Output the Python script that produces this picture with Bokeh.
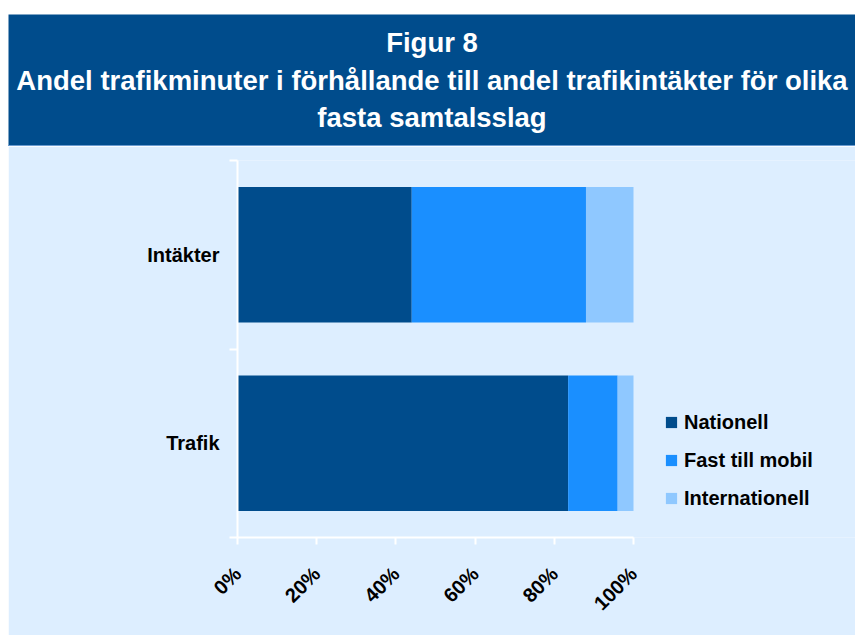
from bokeh.plotting import figure
from bokeh.models import Range1d, FixedTicker, Legend, LegendItem, ColumnDataSource, Spacer
from bokeh.layouts import column, row
from bokeh.embed import file_html
from bokeh.resources import INLINE
from bokeh.core.properties import value

# ---- data ----
title_lines = ["Figur 8",
               "Andel trafikminuter i förhållande till andel trafikintäkter för olika",
               "fasta samtalsslag"]
categories = ["Trafik", "Intäkter"]          # bottom -> top
series = ["Nationell", "Fast till mobil", "Internationell"]
nationell = [83.5, 44.0]
fast_till_mobil = [12.5, 44.0]
internationell = [4.0, 12.0]
x_ticks = [0, 20, 40, 60, 80, 100]
x_tick_labels = ["0%", "20%", "40%", "60%", "80%", "100%"]

# ---- styles ----
DARK = "#004C8C"
BG = "#DDEEFF"
colors = ["#004C8C", "#1A8FFF", "#8FC8FF"]
FONT = value("Liberation Sans")
W = 847

# ---- title band ----
th = 131
tf = figure(width=W, height=th, x_range=Range1d(0, 1), y_range=Range1d(0, th),
            x_axis_type=None, y_axis_type=None, toolbar_location=None,
            output_backend="svg", min_border=0)
tf.frame_align = False
tf.background_fill_color = DARK
tf.border_fill_color = DARK
tf.outline_line_color = None
tf.grid.visible = False
line_pos = [th - 28, th - 66, th - 103]
tf.text(x=[0.5] * len(title_lines), y=line_pos, text=title_lines,
        text_align="center", text_baseline="middle", text_font=FONT,
        text_font_style="bold", text_font_size="27.5px", text_color="white")

# thin separator line under the band
sep = Spacer(width=W, height=1, styles={"background-color": "#6A9BD0"})

# ---- main chart ----
LEFT = 229
AXIS_PX = 396                      # pixel length of the 0-100 % axis
frame_w = W - LEFT
x_end = x_ticks[-1] * frame_w / AXIS_PX

y_pos = [i + 0.5 for i in range(len(categories))]
src = ColumnDataSource(dict(y=y_pos, Nationell=nationell,
                            **{"Fast till mobil": fast_till_mobil},
                            Internationell=internationell))

p = figure(width=W, height=489, x_range=Range1d(0, x_end),
           y_range=Range1d(0, len(categories)),
           toolbar_location=None, output_backend="svg",
           min_border_left=LEFT, min_border_right=0,
           min_border_top=14, min_border_bottom=98)
p.frame_align = False
p.background_fill_color = BG
p.border_fill_color = BG
p.outline_line_color = None
p.grid.visible = False

rs = p.hbar_stack(series, y="y", height=0.72, color=colors, line_color=None, source=src)

p.xaxis.ticker = FixedTicker(ticks=x_ticks)
p.xaxis.bounds = (x_ticks[0], x_ticks[-1])
p.xaxis.major_label_overrides = {t: l for t, l in zip(x_ticks, x_tick_labels)}
p.xaxis.major_label_orientation = 0.785398
p.xaxis.major_tick_out = 7
p.xaxis.major_tick_in = 0
p.xaxis.major_label_standoff = 26

p.yaxis.ticker = FixedTicker(ticks=y_pos, minor_ticks=list(range(len(categories) + 1)))
p.yaxis.major_label_overrides = {y: c for y, c in zip(y_pos, categories)}
p.yaxis.major_tick_out = 0
p.yaxis.major_tick_in = 0
p.yaxis.minor_tick_out = 8
p.yaxis.minor_tick_in = 0
p.yaxis.major_label_standoff = 10

for ax in (p.xaxis, p.yaxis):
    ax.axis_line_color = "white"
    ax.axis_line_width = 2
    ax.major_tick_line_color = "white"
    ax.major_tick_line_width = 2
    ax.minor_tick_line_color = "white"
    ax.minor_tick_line_width = 2
    ax.major_label_text_font = "Liberation Sans"
    ax.major_label_text_font_style = "bold"
    ax.major_label_text_font_size = "20px"
    ax.major_label_text_color = "black"
p.xaxis.minor_tick_line_color = None

legend = Legend(items=[LegendItem(label=s, renderers=[r]) for s, r in zip(series, rs)],
                location=(427, 27), orientation="vertical",
                glyph_width=14, glyph_height=14, label_standoff=6,
                label_height=24, spacing=14, padding=0, margin=0,
                background_fill_alpha=0, border_line_color=None,
                label_text_font="Liberation Sans", label_text_font_style="bold",
                label_text_font_size="20px", label_text_color="black")
p.add_layout(legend, "center")

layout = row(Spacer(width=8, height=10), column(Spacer(width=W, height=14), tf, sep, p))
open("out.html", "w").write(file_html(layout, INLINE))
